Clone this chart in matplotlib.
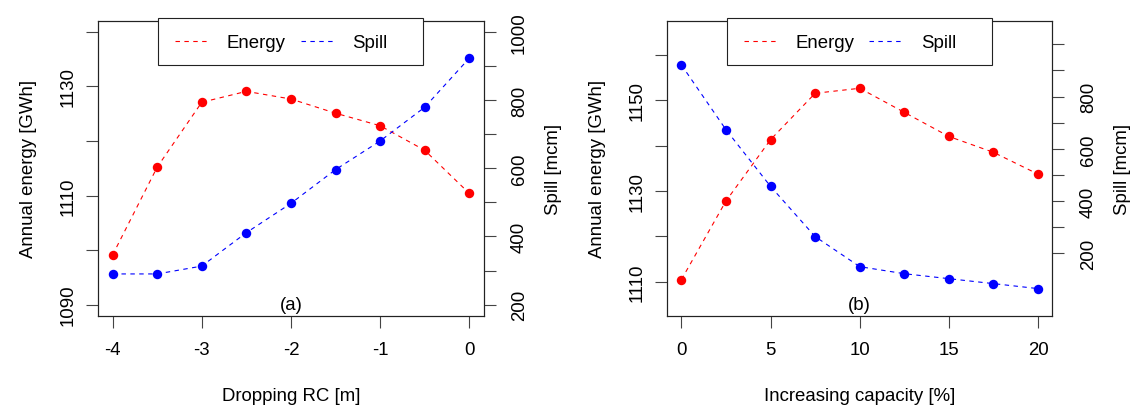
import matplotlib
matplotlib.use("Agg")
import matplotlib.pyplot as plt
from matplotlib.lines import Line2D
from matplotlib.patches import Rectangle

plt.rcParams['font.family'] = ['Liberation Sans', 'DejaVu Sans']
plt.rcParams['font.size'] = 13.4

# (a) dropping rule curve
rc_drop = [-4, -3.5, -3, -2.5, -2, -1.5, -1, -0.5, 0]
energy_a = [1099.1, 1115.2, 1127.1, 1129.1, 1127.7, 1125.1, 1122.8, 1118.3, 1110.4]
spill_a = [290, 290, 313, 411, 497, 596, 680, 779, 923]

# (b) increasing capacity
cap_inc = [0, 2.5, 5, 7.5, 10, 12.5, 15, 17.5, 20]
energy_b = [1110.5, 1127.8, 1141.3, 1151.5, 1152.6, 1147.3, 1142.0, 1138.5, 1133.7]
spill_b = [921, 673, 456, 264, 149, 122, 103, 84, 65]

energy_ticks_a = [1090, 1100, 1110, 1120, 1130, 1140]
energy_labels_a = ['1090', '', '1110', '', '1130', '']
energy_ticks_b = [1110, 1120, 1130, 1140, 1150, 1160]
energy_labels_b = ['1110', '', '1130', '', '1150', '']
spill_ticks = [200, 300, 400, 500, 600, 700, 800, 900, 1000]
spill_labels_a = ['200', '', '400', '', '600', '', '800', '', '1000']
spill_labels_b = ['200', '', '400', '', '600', '', '800', '', '']

RED = '#ff0000'
BLUE = '#0000ff'
DASH = (0, (4, 4))


def style_axis(ax, ypad):
    for s in ax.spines.values():
        s.set_linewidth(0.8)
        s.set_color('#222222')
    ax.tick_params(axis='x', direction='out', length=8.3, width=0.8, pad=10, color='#444444')
    ax.tick_params(axis='y', direction='out', length=8.3, width=0.8, pad=ypad, color='#444444')
    for lbl in ax.get_yticklabels():
        lbl.set_rotation(90)
        lbl.set_va('center')


def panel(ax, x, energy, spill, xlim, elim, slim, eticks, elabels, slabels,
          xlabel, tag, tag_pos):
    ax.plot(x, energy, color=RED, lw=0.8, ls=DASH)
    ax.plot(x, energy, 'o', color=RED, ms=6.8, mew=0)
    ax.set_xlim(xlim)
    ax.set_ylim(elim)
    ax.set_yticks(eticks)
    ax.set_yticklabels(elabels)
    ax.set_xlabel(xlabel, labelpad=21)
    ax.set_ylabel('Annual energy [GWh]', labelpad=16)
    ax.text(tag_pos[0], tag_pos[1], tag, ha='center', va='center')
    style_axis(ax, 7.5)

    ax2 = ax.twinx()
    ax2.plot(x, spill, color=BLUE, lw=0.8, ls=DASH)
    ax2.plot(x, spill, 'o', color=BLUE, ms=6.8, mew=0)
    ax2.set_ylim(slim)
    ax2.set_yticks(spill_ticks)
    ax2.set_yticklabels(slabels)
    ax2.set_ylabel('Spill [mcm]', labelpad=12)
    style_axis(ax2, 11.5)

    # legend box in the R style
    ax2.add_patch(Rectangle((0.1558, 0.8516), 0.6872, 0.16, transform=ax2.transAxes,
                            facecolor='white', edgecolor='#222222', lw=0.8,
                            clip_on=False, zorder=5))
    handles = [Line2D([], [], color=RED, lw=0.8, ls=DASH),
               Line2D([], [], color=BLUE, lw=0.8, ls=DASH)]
    leg = ax2.legend(handles, ['Energy', 'Spill'], ncol=2, frameon=False,
                     loc='center left', bbox_to_anchor=(0.199, 0.9263),
                     borderpad=0, borderaxespad=0, handlelength=1.8,
                     handletextpad=0.98, columnspacing=0.8)
    leg.set_zorder(6)


fig = plt.figure(figsize=(11.34, 4.10), dpi=100)
ax_a = fig.add_axes([0.0867, 0.228, 0.3397, 0.7183])
ax_b = fig.add_axes([0.5883, 0.228, 0.3397, 0.7183])

panel(ax_a, rc_drop, energy_a, spill_a, (-4.16, 0.16), (1088, 1142), (168, 1032),
      energy_ticks_a, energy_labels_a, spill_labels_a, 'Dropping RC [m]', '(a)', (-2, 1090))
ax_a.set_xticks([-4, -3, -2, -1, 0])
ax_a.set_xticklabels(['-4', '-3', '-2', '-1', '0'])

panel(ax_b, cap_inc, energy_b, spill_b, (-0.8, 20.8), (1102.6, 1167.4), (-38, 1089),
      energy_ticks_b, energy_labels_b, spill_labels_b, 'Increasing capacity [%]', '(b)', (10, 1105))
ax_b.set_xticks([0, 5, 10, 15, 20])

fig.savefig('out.png', dpi=100)
